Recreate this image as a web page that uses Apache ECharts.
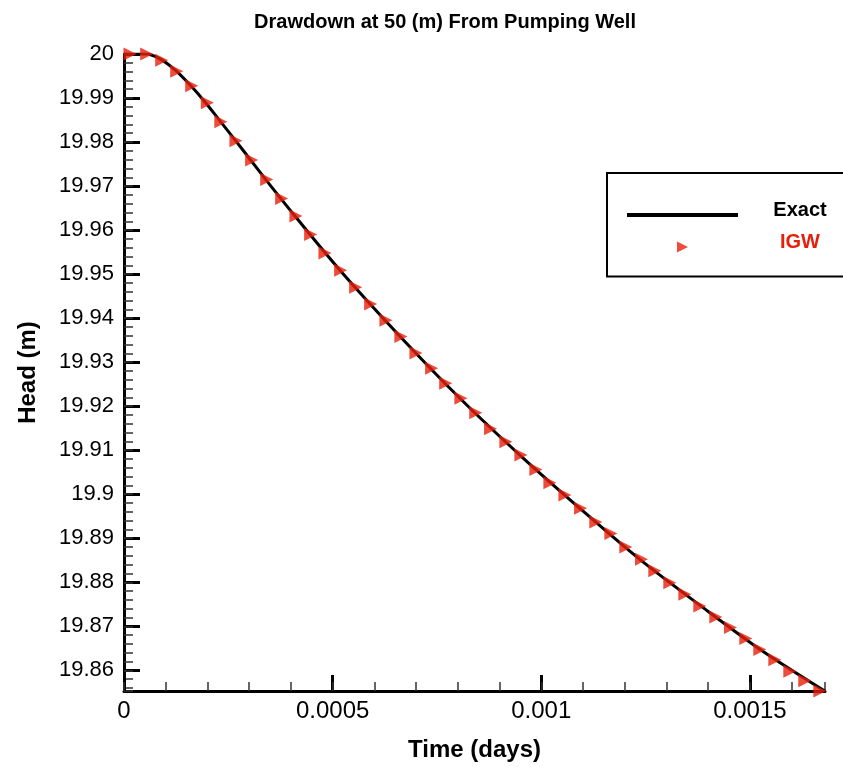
<!DOCTYPE html>
<html>
<head>
<meta charset="utf-8">
<script src="https://cdn.jsdelivr.net/npm/echarts@6/dist/echarts.min.js"></script>
<style>
    html, body { margin: 0; padding: 0; background: #fff; }
    #chart { width: 843px; height: 767px; }
</style>
</head>
<body>
<div id="chart"></div>
<script>
//exact solution
var exactTime = [0, 0.0000527, 0.0000862, 0.0001222, 0.0001581, 0.0001941, 0.00023, 0.0002659, 0.0003019, 0.0003378,
    0.0004097, 0.0005175, 0.0006612, 0.000805, 0.0009487, 0.0010925, 0.0012362, 0.00138, 0.0015237, 0.0016795];
var exactHead = [20, 20, 19.9989, 19.9964, 19.993, 19.9891, 19.9848, 19.9805, 19.9761, 19.9717,
    19.9632, 19.9509, 19.9359, 19.9218, 19.9089, 19.8968, 19.8852, 19.8748, 19.8648, 19.8553];

//IGW results
var igwTime = [0.0000144, 0.0000544, 0.0000903, 0.0001263, 0.0001622, 0.0001996, 0.000232, 0.0002683, 0.0003059, 0.0003419,
    0.0003778, 0.0004121, 0.0004473, 0.0004816, 0.0005192, 0.0005551, 0.000591, 0.0006277, 0.0006636, 0.0006996,
    0.0007372, 0.000771, 0.0008074, 0.000843, 0.0008785, 0.0009152, 0.0009511, 0.0009871, 0.0010206, 0.0010566,
    0.0010942, 0.0011308, 0.0011668, 0.0012027, 0.0012403, 0.0012722, 0.0013081, 0.001344, 0.00138, 0.0014183,
    0.0014535, 0.0014902, 0.0015237, 0.0015597, 0.0015956, 0.0016315, 0.0016675];
var igwHead = [20, 20, 19.9986, 19.9961, 19.9928, 19.9889, 19.9846, 19.9803, 19.9759, 19.9715,
    19.9672, 19.9632, 19.959, 19.9548, 19.9509, 19.947, 19.9432, 19.9395, 19.9358, 19.9321,
    19.9286, 19.9252, 19.9218, 19.9185, 19.9149, 19.9119, 19.9089, 19.9056, 19.9026, 19.8998,
    19.8968, 19.8937, 19.8911, 19.888, 19.8852, 19.8826, 19.8799, 19.8773, 19.8746, 19.8721,
    19.8697, 19.8672, 19.8647, 19.8624, 19.8598, 19.8576, 19.8553];

var timeMax = 0.00168;
var headMin = 19.8553;
var headMax = 20;

var font = "'Liberation Sans', Arial, sans-serif";
var red = '#e61f0b';

function zip(xs, ys) {
    var out = [];
    for (var i = 0; i < xs.length; i++)
        out.push([xs[i], ys[i]]);
    return out;
}

var myChart = echarts.init(document.getElementById('chart'));

var option = {
    animation: false,
    backgroundColor: '#fff',
    title: {
        text: 'Drawdown at 50 (m) From Pumping Well',
        left: 440,
        top: 7,
        textAlign: 'center',
        textStyle: { fontFamily: font, fontWeight: 'bold', fontSize: 20, color: '#000' }
    },
    legend: {
        orient: 'vertical',
        left: 607,
        top: 173,
        padding: [27, 20, 24, 20],
        itemWidth: 111,
        itemHeight: 11,
        itemGap: 12,
        borderColor: '#000',
        borderWidth: 2,
        backgroundColor: '#fff',
        textStyle: { fontFamily: font, fontWeight: 'bold', fontSize: 20 },
        formatter: function (name) { return '{a|' + name + '}'; },
        data: [
            { name: 'Exact', icon: 'path://M0,0L111,0L111,4L0,4Z', itemStyle: { color: '#000' },
              textStyle: { color: '#000', rich: { a: { width: 60, align: 'center', padding: [0, 0, 10, 27], color: '#000' } } } },
            { name: 'IGW', icon: 'path://M0,0L11,5.5L0,11Z', itemStyle: { color: red },
              textStyle: { color: red, rich: { a: { width: 60, align: 'center', padding: [0, 0, 10, 27], color: red } } } }
        ]
    },
    grid: { left: 124, right: 18, top: 54, bottom: 76 },
    xAxis: [
        {
            type: 'value', min: 0, max: timeMax, splitNumber: 4,
            name: 'Time (days)', nameLocation: 'middle', nameGap: 47,
            nameTextStyle: { fontFamily: font, fontWeight: 'bold', fontSize: 24, color: '#000' },
            axisLine: { lineStyle: { color: '#000', width: 3 } },
            axisTick: { inside: true, length: 16, lineStyle: { color: '#000', width: 3 } },
            axisLabel: { fontFamily: font, fontSize: 24, color: '#000', margin: 8, showMaxLabel: false },
            splitLine: { show: false }
        },
        {
            //minor ticks
            type: 'value', min: 0, max: timeMax, interval: 0.0001, position: 'bottom',
            axisLine: { show: false },
            axisTick: { inside: true, length: 9, lineStyle: { color: '#333', width: 1.5 } },
            axisLabel: { show: false },
            splitLine: { show: false }
        }
    ],
    yAxis: [
        {
            type: 'value', min: headMin, max: headMax, splitNumber: 15,
            name: 'Head (m)', nameLocation: 'middle', nameGap: 84,
            nameTextStyle: { fontFamily: font, fontWeight: 'bold', fontSize: 24, color: '#000' },
            axisLine: { lineStyle: { color: '#000', width: 3 } },
            axisTick: { inside: true, length: 16, lineStyle: { color: '#000', width: 3 } },
            axisLabel: { fontFamily: font, fontSize: 22, color: '#000', margin: 10, showMinLabel: false },
            splitLine: { show: false }
        },
        {
            //minor ticks
            type: 'value', min: headMin, max: headMax, splitNumber: 72, position: 'left', offset: 0,
            axisLine: { show: false },
            axisTick: { inside: true, length: 9, lineStyle: { color: '#333', width: 1.5 } },
            axisLabel: { show: false },
            splitLine: { show: false }
        }
    ],
    series: [
        {
            name: 'Exact',
            type: 'line',
            xAxisIndex: 0,
            yAxisIndex: 0,
            data: zip(exactTime, exactHead),
            showSymbol: false,
            symbol: 'none',
            smooth: 0.3,
            lineStyle: { color: '#000', width: 3 },
            z: 2
        },
        {
            name: 'IGW',
            type: 'scatter',
            xAxisIndex: 0,
            yAxisIndex: 0,
            data: zip(igwTime, igwHead),
            symbol: 'triangle',
            symbolRotate: -90,
            symbolSize: 13,
            itemStyle: { color: red },
            clip: false,
            z: 3
        }
    ]
};

myChart.setOption(option);
</script>
</body>
</html>
